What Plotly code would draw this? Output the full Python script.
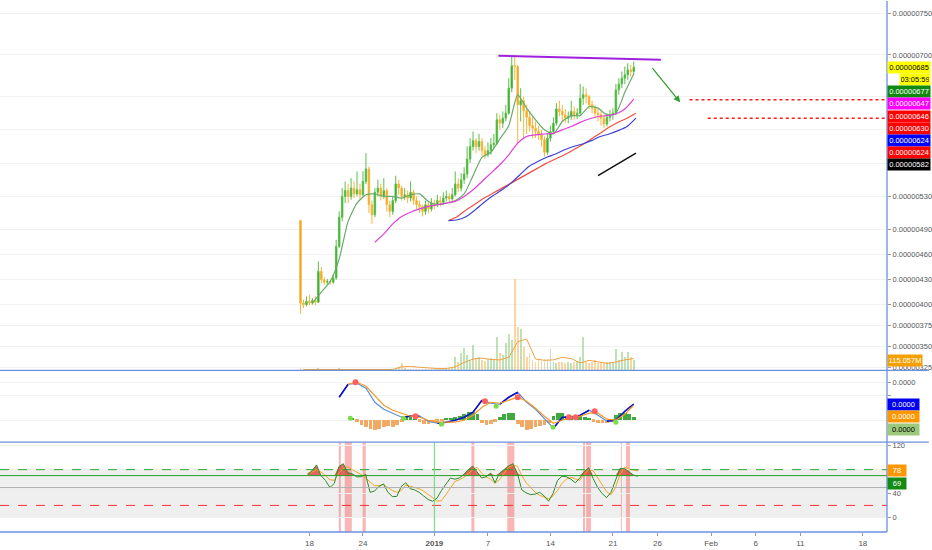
import numpy as np
import pandas as pd
import plotly.graph_objects as go

# 8h candles, prices in satoshi (1e-8)
candle_start = "2018-12-17 00:00"
first_open = 501
closes = [402, 400, 404, 402, 405, 403, 440, 430, 427, 428, 427, 432,
          470, 505, 530, 537, 530, 540, 533, 538, 532, 548, 563, 520,
          508, 535, 540, 530, 537, 520, 512, 525, 545, 540, 530, 532,
          528, 535, 525, 520, 518, 512, 520, 515, 522, 520, 525, 523,
          528, 530, 527, 532, 545, 540, 550, 557, 575, 590, 597, 590,
          596, 585, 580, 585, 592, 594, 622, 618, 624, 630, 660, 687,
          686, 640, 645, 633, 625, 615, 612, 608, 605, 598, 583, 600,
          608, 618, 635, 632, 628, 624, 626, 632, 628, 630, 648, 652,
          650, 640, 636, 630, 628, 624, 617, 625, 628, 630, 658, 665,
          672, 676, 682, 680, 685]
highs = [501, 406, 410, 412, 408, 410, 452, 445, 433, 431, 430, 436,
         478, 512, 540, 548, 545, 552, 548, 560, 545, 560, 582, 566,
         525, 540, 550, 545, 552, 540, 525, 530, 555, 550, 543, 540,
         537, 548, 538, 530, 525, 520, 525, 524, 528, 526, 532, 530,
         535, 537, 534, 540, 560, 552, 558, 565, 590, 600, 608, 600,
         605, 600, 590, 595, 600, 605, 630, 628, 632, 640, 672, 698,
         700, 688, 660, 650, 640, 632, 625, 620, 615, 610, 602, 606,
         615, 625, 642, 645, 640, 635, 632, 645, 638, 636, 665, 662,
         660, 652, 645, 640, 635, 632, 628, 630, 634, 636, 665, 672,
         680, 686, 690, 688, 692]
lows = [389, 396, 398, 399, 400, 399, 402, 426, 424, 424, 424, 425,
        430, 468, 500, 522, 522, 526, 528, 530, 526, 530, 545, 510,
        497, 505, 530, 525, 527, 512, 505, 508, 522, 532, 525, 526,
        522, 524, 520, 515, 510, 506, 508, 510, 512, 515, 517, 518,
        520, 524, 522, 525, 530, 535, 536, 545, 552, 570, 585, 582,
        585, 578, 575, 577, 580, 588, 592, 610, 612, 620, 628, 655,
        670, 594, 620, 600, 605, 608, 600, 600, 598, 590, 578, 580,
        596, 605, 615, 626, 620, 618, 618, 622, 622, 623, 628, 640,
        642, 635, 630, 624, 620, 615, 612, 614, 620, 622, 628, 652,
        660, 665, 670, 674, 676]
volumes = [30, 12, 10, 8, 10, 8, 25, 12, 8, 8, 6, 8,
           20, 25, 18, 12, 10, 12, 10, 12, 8, 15, 20, 18,
           12, 10, 8, 10, 8, 10, 12, 8, 15, 40, 80, 30,
           20, 15, 12, 10, 15, 12, 10, 12, 10, 15, 12, 10,
           15, 20, 25, 40, 150, 90, 200, 260, 180, 120, 290, 130,
           150, 120, 110, 135, 140, 120, 380, 200, 180, 310, 420, 350,
           1050, 495, 480, 265, 150, 200, 115, 100, 120, 110, 130, 130,
           250, 90, 80, 100, 90, 85, 95, 80, 100, 110, 150, 380,
           90, 80, 100, 115, 80, 90, 85, 95, 100, 100, 250, 120,
           207, 150, 207, 150, 115]  # millions

# moving averages, one point per day
green_ma_start = "2018-12-18 08:00"
green_ma = [402, 415, 428, 455, 500, 522, 532, 533, 530, 530, 528, 532, 533, 524,
            520, 522, 525, 533, 555, 577, 583, 599, 615, 652, 636, 622, 610, 605,
            620, 627, 627, 638, 636, 628, 630, 655, 677]
pink_ma_start = "2018-12-25 08:00"
pink_ma = [475, 485, 497, 506, 511, 515, 518,
           520, 522, 524, 530, 538, 548, 558, 568, 580, 594, 602, 604, 605,
           606, 610, 614, 619, 623, 626, 627, 629, 635, 647]
red_ma_start = "2019-01-02 14:00"
red_ma = [501, 506, 514, 521, 528, 534, 540, 546, 552, 558, 564, 570, 575,
          580, 586, 592, 599, 606, 613, 619, 624, 630]
blue_ma_start = "2019-01-02 14:00"
blue_ma = [501, 502, 506, 514, 523, 531, 538, 546, 556, 566, 572, 577, 581,
           586, 590, 593, 597, 602, 605, 609, 614, 624]
vol_ma_start = "2018-12-17 08:00"
vol_ma = [10, 10, 10, 10, 10, 10, 10, 10, 10, 10, 10, 40, 45, 35, 25,
          20, 20, 40, 90, 130, 140, 125, 120, 150, 330, 360, 130, 115, 120,
          150, 135, 85, 115, 100, 80, 95, 120, 135]

# MACD (arbitrary units, daily) and histogram (12h)
macd_start = "2018-12-21 08:00"
macd = [23, 36, 37, 32, 18, 11, 7, 3, 4, 4, -1,
        -3, -2, 0, 3, 8, 20, 17, 16, 23, 28, 18, 11, 1, -8, 3, 3, 5, 10, 5, -1, 0, 9, 16]
signal_start = "2018-12-22 08:00"
signal = [36, 38, 34, 24, 15, 10, 7, 4, 3, 0,
          -2, -2, -2, 0, 5, 13, 18, 17, 20, 23, 19, 12, 4, -3, 0, 3, 4, 7, 7, 1, 0, 6, 15]
hist_start = "2018-12-21 08:00"
hist = [0, 0, 0, 1, -2, -5, -7, -9, -10, -9,
        -7, -6, -7, -5, -2, 3, 5, 3, -2, -4,
        -4, -3, -2, -1, 1, 2, 3, 4, 6, 8,
        8, 6, -3, -5, -4, -2, 3, 6, 7, 7,
        -4, -7, -10, -9, -7, -6, -5, -3, 4, 7,
        7, 4, 3, 5, 4, 3, 2, -2, -3, -3,
        -3, -2, 5, 7, 7, 6, 3]
cross_dn_x = ["2018-12-23 04:00", "2018-12-29 21:00", "2019-01-06 16:00", "2019-01-10 08:00",
              "2019-01-16 02:00", "2019-01-16 20:00", "2019-01-18 23:00"]
cross_dn_y = [38, 4, 19, 23, 3, 3, 9]
cross_up_x = ["2018-12-22 14:00", "2018-12-28 13:00", "2019-01-01 19:00", "2019-01-07 22:00",
              "2019-01-14 07:00", "2019-01-21 08:00"]
cross_up_y = [2, 2, -4, 14, -7, -2]

# RSI, 12h
rsi_start = "2018-12-17 19:00"
rsi = [72, 78, 88, 70, 62, 50, 57, 85, 90, 75,
       73, 68, 68, 72, 42, 44, 52, 56, 42, 35,
       35, 52, 58, 48, 46, 42, 36, 30, 27, 32,
       45, 56, 66, 64, 66, 72, 80, 86, 75, 66,
       68, 74, 58, 74, 80, 86, 90, 74, 46, 41,
       38, 39, 42, 36, 27, 40, 62, 69, 68, 64,
       58, 66, 77, 83, 65, 50, 40, 33, 42, 62,
       82, 82, 76, 71, 69]
rsi_ma = [74, 76, 80, 76, 70, 63, 62, 74, 82, 85,
          80, 76, 72, 66, 59, 53, 53, 55, 50, 45,
          42, 45, 54, 52, 49, 48, 44, 39, 33, 27,
          28, 38, 50, 60, 63, 67, 73, 80, 84, 74,
          68, 64, 57, 63, 74, 84, 87, 86, 70, 58,
          50, 42, 37, 34, 31, 36, 45, 57, 64, 67,
          65, 62, 72, 80, 78, 66, 55, 43, 38, 50,
          72, 84, 81, 79, 78]
rsi_bands = [("2018-12-21 07:00", "2018-12-21 12:30"), ("2018-12-21 23:00", "2018-12-22 18:00"),
             ("2018-12-23 23:00", "2018-12-24 07:30"), ("2019-01-05 03:30", "2019-01-05 11:30"),
             ("2019-01-09 04:00", "2019-01-09 23:00"), ("2019-01-17 15:30", "2019-01-17 21:00"),
             ("2019-01-18 00:00", "2019-01-18 13:00"), ("2019-01-21 21:30", "2019-01-22 00:00"),
             ("2019-01-22 11:00", "2019-01-22 22:00")]

# hand drawings
resistance_x = ["2019-01-08 04:00", "2019-01-26 09:00"]
resistance_y = [699, 694]
support_x = ["2019-01-19 08:00", "2019-01-23 14:00"]
support_y = [555, 582]
arrow_x = ["2019-01-25 07:00", "2019-01-28 13:00"]
arrow_y = [686, 643]
target_x = ["2019-01-29 14:00", "2019-01-31 15:00"]
target_y = [646, 624]

price_ticks = [325, 350, 375, 400, 430, 460, 490, 530, 570, 610, 650, 700, 750]
hidden_ticks = [570, 610, 650]
x_ticks = ["2018-12-18", "2018-12-24", "2019-01-01", "2019-01-07", "2019-01-14", "2019-01-21",
           "2019-01-26", "2019-02-01", "2019-02-06", "2019-02-11", "2019-02-18"]
x_ticktext = ["18", "24", "<b>2019</b>", "7", "14", "21", "26", "Feb", "6", "11", "18"]

# right-axis price labels: value, background, text colour
label_vals = [685, 677, 647, 646, 630, 624, 624, 582]
label_bgs = ["#ffff00", "#118811", "#ff00ff", "#ff0000", "#ff0000", "#0000ff", "#ff0000", "#000000"]
label_fgs = ["#000000", "#ffffff", "#ffffff", "#ffffff", "#ffffff", "#ffffff", "#ffffff", "#ffffff"]
countdown = "03:05:59"
last_volume = 115.057

X_RANGE = ["2018-11-13 08:00", "2019-02-20 17:00"]
EDGE = "#6b8fdc"
FONT = "Liberation Sans, Arial, sans-serif"


def series_x(start, n, freq):
    return pd.date_range(start, periods=n, freq=freq)


cx = series_x(candle_start, len(closes), "8h")
opens = [first_open] + closes[:-1]

fig = go.Figure()

# volume overlay
vol_colors = ["rgba(110,190,90,0.45)" if c >= o else "rgba(245,175,70,0.5)" for o, c in zip(opens, closes)]
fig.add_trace(go.Bar(x=cx, y=volumes, marker_color=vol_colors, marker_line_width=0,
                     width=8 * 3600 * 1000 * 0.6, yaxis="y2"))
fig.add_trace(go.Scatter(x=series_x(vol_ma_start, len(vol_ma), "D"), y=vol_ma, mode="lines",
                         line=dict(color="#f0a040", width=1), yaxis="y2"))

# candles
fig.add_trace(go.Candlestick(
    x=cx, open=opens, high=highs, low=lows, close=closes,
    increasing=dict(line=dict(color="#5cbf4c", width=1), fillcolor="#25a025"),
    decreasing=dict(line=dict(color="#f5b53c", width=1), fillcolor="#f2a000"),
    whiskerwidth=0))

# moving averages
for start, vals, color in [(green_ma_start, green_ma, "#6aaa6a"), (pink_ma_start, pink_ma, "#e040d8"),
                           (red_ma_start, red_ma, "#ee5040"), (blue_ma_start, blue_ma, "#3f3fd8")]:
    fig.add_trace(go.Scatter(x=series_x(start, len(vals), "D"), y=vals, mode="lines",
                             line=dict(color=color, width=1.2, shape="spline", smoothing=0.6)))

# resistance / support drawings
fig.add_trace(go.Scatter(x=resistance_x, y=resistance_y, mode="lines", line=dict(color="#a020e0", width=2)))
fig.add_trace(go.Scatter(x=support_x, y=support_y, mode="lines", line=dict(color="#111111", width=1.5)))
for tx, ty in zip(target_x, target_y):
    fig.add_trace(go.Scatter(x=[tx, X_RANGE[1]], y=[ty, ty], mode="lines",
                             line=dict(color="#ff1a1a", width=1.5, dash="dot")))

# MACD panel
hx = series_x(hist_start, len(hist), "12h")
fig.add_trace(go.Bar(x=hx, y=hist, marker_color=["#3fa83f" if h >= 0 else "#f0aa66" for h in hist],
                     marker_line_width=0, width=12 * 3600 * 1000 * 0.85, yaxis="y3"))
mx = series_x(macd_start, len(macd), "D")
fig.add_trace(go.Scatter(x=mx, y=macd, mode="lines", line=dict(color="#5b8fe0", width=1.2), yaxis="y3"))
above = [True] + [m >= s for m, s in zip(macd[1:], signal)]
dark = [m if (above[i] or (i + 1 < len(macd) and above[i + 1])) else None for i, m in enumerate(macd)]
fig.add_trace(go.Scatter(x=mx, y=dark, mode="lines", line=dict(color="#1010c0", width=1.6),
                         connectgaps=False, yaxis="y3"))
fig.add_trace(go.Scatter(x=series_x(signal_start, len(signal), "D"), y=signal, mode="lines",
                         line=dict(color="#f59b28", width=1.2), yaxis="y3"))
fig.add_trace(go.Scatter(x=cross_dn_x, y=cross_dn_y, mode="markers",
                         marker=dict(color="#ff6060", size=6), yaxis="y3"))
fig.add_trace(go.Scatter(x=cross_up_x, y=cross_up_y, mode="markers",
                         marker=dict(color="#7ddc4a", size=5), yaxis="y3"))

# RSI panel
rx = series_x(rsi_start, len(rsi), "12h")
fig.add_trace(go.Scatter(x=rx, y=[70] * len(rsi), mode="lines", line=dict(width=0), yaxis="y4"))
fig.add_trace(go.Scatter(x=rx, y=np.maximum(rsi, 70), mode="lines", line=dict(width=0),
                         fill="tonexty", fillcolor="rgba(215,60,45,0.75)", yaxis="y4"))
fig.add_trace(go.Scatter(x=rx, y=rsi_ma, mode="lines", line=dict(color="#f5a623", width=1), yaxis="y4"))
fig.add_trace(go.Scatter(x=rx, y=rsi, mode="lines", line=dict(color="#2e8b2e", width=1), yaxis="y4"))

shapes = [
    dict(type="rect", xref="paper", yref="y4", x0=0, x1=1, y0=0, y1=80,
         fillcolor="#efefef", line_width=0, layer="below"),
    dict(type="line", xref="paper", yref="y4", x0=0, x1=1, y0=80, y1=80,
         line=dict(color="#2fa52f", width=1, dash="dash")),
    dict(type="line", xref="paper", yref="y4", x0=0, x1=1, y0=70, y1=70,
         line=dict(color="#24a024", width=1)),
    dict(type="line", xref="paper", yref="y4", x0=0, x1=1, y0=50, y1=50,
         line=dict(color="#b0b0b0", width=1)),
    dict(type="line", xref="paper", yref="y4", x0=0, x1=1, y0=20, y1=20,
         line=dict(color="#ff3030", width=1, dash="dash")),
    dict(type="line", xref="x", yref="y4 domain", x0="2019-01-01", x1="2019-01-01", y0=0, y1=1,
         line=dict(color="#66dd66", width=1)),
]
for b0, b1 in rsi_bands:
    shapes.append(dict(type="rect", xref="x", yref="y4 domain", x0=b0, x1=b1, y0=0, y1=1,
                       fillcolor="rgba(245,90,90,0.45)", line_width=0, layer="below"))

# panel borders
d_macd, d_price = 90 / 532, 162 / 532
for yy, x1 in [(d_price, 932 / 890), (d_macd, 932 / 890), (0, 1)]:
    shapes.append(dict(type="line", xref="paper", yref="paper", x0=0, x1=x1, y0=yy, y1=yy,
                       line=dict(color=EDGE, width=1.3)))
shapes.append(dict(type="line", xref="paper", yref="paper", x0=1, x1=1, y0=0, y1=1,
                   line=dict(color=EDGE, width=1.3)))

annotations = [dict(x=arrow_x[1], y=arrow_y[1], ax=arrow_x[0], ay=arrow_y[0], xref="x", yref="y",
                    axref="x", ayref="y", text="", showarrow=True, arrowhead=2, arrowsize=1.1,
                    arrowwidth=1.2, arrowcolor="#2c9e2c")]


def side_label(text, y, yref, bg, fg, width=40, xshift=0):
    return dict(text=text, x=1, y=y, xref="paper", yref=yref, xanchor="left", yanchor="middle",
                showarrow=False, bgcolor=bg, width=width, xshift=xshift, borderpad=1,
                font=dict(family=FONT, size=7.5, color=fg))


# stacked price labels
prev = None
entries = [(f"{label_vals[0] / 1e8:.8f}", label_vals[0], label_bgs[0], label_fgs[0], 40, 0),
           (countdown, label_vals[0], label_bgs[0], "#000000", 28, 12)]
entries += [(f"{v / 1e8:.8f}", v, bg, fg, 40, 0) for v, bg, fg in zip(label_vals[1:], label_bgs[1:], label_fgs[1:])]
for text, v, bg, fg, w, xs in entries:
    y = v if prev is None else min(v, prev - 14.6)
    prev = y
    annotations.append(side_label(text, y, "y", bg, fg, w, xs))

annotations.append(side_label(f"{last_volume:.3f}M", last_volume, "y2", "#f5a000", "#ffffff", 32))

prev = None
for v, bg, fg in [(macd[-1], "#0000ee", "#ffffff"), (signal[-1], "#ff9800", "#ffffff"), (hist[-1], "#9cc97c", "#000000")]:
    y = v if prev is None else min(v, prev - 12.5)
    prev = y
    annotations.append(side_label("0.0000", y, "y3", bg, fg, 29))

prev = None
for v, bg in [(rsi_ma[-1], "#ff9800"), (rsi[-1], "#138a13")]:
    y = v if prev is None else min(v, prev - 21)
    prev = y
    annotations.append(side_label(str(v), y, "y4", bg, "#ffffff", 16))

tickfont = dict(family=FONT, size=7.5, color="#555555")
grid = "#f1f1f1"

fig.update_layout(
    width=932, height=550,
    margin=dict(l=0, r=42, t=0, b=18),
    paper_bgcolor="white", plot_bgcolor="white",
    showlegend=False, hovermode=False,
    shapes=shapes, annotations=annotations,
    bargap=0,
    xaxis=dict(anchor="y4", domain=[0, 1], range=X_RANGE, rangeslider=dict(visible=False),
               showgrid=False, zeroline=False, showline=False,
               tickvals=x_ticks, ticktext=x_ticktext, ticks="outside", ticklen=3,
               tickcolor="#999999", tickfont=dict(family=FONT, size=8, color="#555555")),
    yaxis=dict(domain=[d_price, 1], range=[321.2, 764.7], side="right", anchor="x",
               tickvals=price_ticks,
               ticktext=["" if v in hidden_ticks else f"{v / 1e8:.8f}" for v in price_ticks],
               ticks="outside", ticklen=3, tickcolor="#999999", tickfont=tickfont,
               showgrid=True, gridcolor=grid, zeroline=False),
    yaxis2=dict(overlaying="y", range=[0, 4255], visible=False),
    yaxis3=dict(domain=[d_macd, d_price], range=[-22, 50], side="right", anchor="x",
                tickvals=[38, 25, 0], ticktext=["0.0000", "", ""], ticks="outside", ticklen=3,
                tickcolor="#999999", tickfont=tickfont, showgrid=True, gridcolor=grid, zeroline=False),
    yaxis4=dict(domain=[0, d_macd], range=[-24.6, 126.1], side="right", anchor="x",
                tickvals=[0, 40, 80, 120], ticktext=["0", "40", "80", "120"], ticks="outside", ticklen=3,
                tickcolor="#999999", tickfont=tickfont, showgrid=True, gridcolor=grid, zeroline=False),
)

# page body has a default margin; drop it so the chart sits at the window's top-left
fig.write_html("out.html", config={"displayModeBar": False},
               post_script="document.body.style.margin='0px';")
